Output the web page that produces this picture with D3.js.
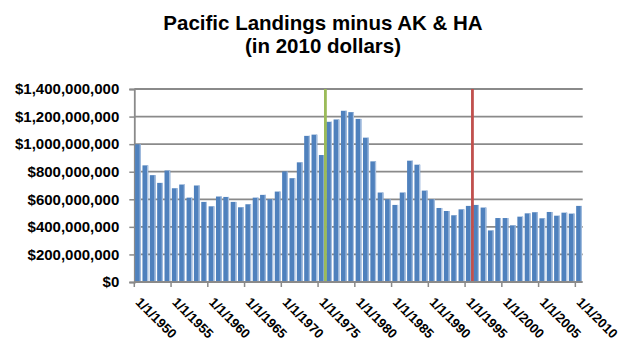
<!DOCTYPE html>
<html>
<head>
<meta charset="utf-8">
<script src="https://cdn.jsdelivr.net/npm/d3@7"></script>
<style>
  html, body { margin: 0; padding: 0; background: #fff; }
  svg { display: block; font-family: "Liberation Sans", Arial, sans-serif; }
</style>
</head>
<body>
<svg id="chart" width="624" height="345"></svg>
<script>
// Annual landings value, Pacific coast excluding Alaska and Hawaii (2010 dollars)
const years = d3.range(1950, 2011);
const landings = [
  999e6, 846e6, 775e6, 719e6, 809e6, 680e6, 707e6, 612e6, 700e6, 581e6,
  549e6, 620e6, 617e6, 581e6, 542e6, 564e6, 612e6, 632e6, 600e6, 656e6,
  802e6, 753e6, 868e6, 1060e6, 1069e6, 921e6, 1162e6, 1179e6, 1242e6, 1232e6,
  1183e6, 1047e6, 875e6, 649e6, 600e6, 559e6, 649e6, 880e6, 851e6, 663e6,
  600e6, 537e6, 515e6, 484e6, 527e6, 552e6, 559e6, 540e6, 374e6, 464e6,
  464e6, 411e6, 474e6, 498e6, 506e6, 462e6, 508e6, 481e6, 503e6, 496e6,
  552e6
];
const yTicks = [0, 200e6, 400e6, 600e6, 800e6, 1000e6, 1200e6, 1400e6];
const tickYears = [1950, 1955, 1960, 1965, 1970, 1975, 1980, 1985, 1990, 1995, 2000, 2005, 2010];
const tickLabels = tickYears.map(y => "1/1/" + y);
const markerYears = [1976, 1996];
const markerColors = ["#9bbb59", "#c0504d"];
const titleLines = ["Pacific Landings minus AK & HA", "(in 2010 dollars)"];

const svg = d3.select("#chart");
const plotLeft = 134.3, plotRight = 582.7, plotTop = 89, plotBottom = 282;

const x = d3.scaleBand()
  .domain(years)
  .range([plotLeft, plotRight])
  .paddingInner(0.22)
  .paddingOuter(0.11);
const step = x.step();
const gapHalf = (step - x.bandwidth()) / 2;
// left edge of a year's category slot
const slot = yr => x(yr) - gapHalf;

const y = d3.scaleLinear().domain([0, 1400e6]).range([plotBottom, plotTop]);

// Title
svg.append("g").selectAll("text")
  .data(titleLines)
  .join("text")
  .attr("x", 323)
  .attr("y", (d, i) => 30 + i * 22.5)
  .attr("text-anchor", "middle")
  .attr("font-size", 20.5)
  .attr("font-weight", "bold")
  .attr("fill", "#000")
  .text(d => d);

// Horizontal gridlines
svg.append("g").selectAll("line")
  .data(yTicks.slice(1))
  .join("line")
  .attr("x1", plotLeft).attr("x2", plotRight)
  .attr("y1", d => y(d)).attr("y2", d => y(d))
  .attr("stroke", "#8a8a8a")
  .attr("stroke-width", 1.8);

// Y axis
const yAxis = d3.axisLeft(y)
  .tickValues(yTicks)
  .tickSize(5)
  .tickPadding(10)
  .tickFormat(d => "$" + d3.format(",")(d));
const gy = svg.append("g").attr("transform", `translate(${plotLeft},0)`).call(yAxis);
gy.select(".domain").attr("stroke", "#8a8a8a").attr("stroke-width", 1.8);
gy.selectAll(".tick line").attr("stroke", "#8a8a8a").attr("stroke-width", 1.5);
gy.selectAll(".tick text")
  .attr("font-family", "Liberation Sans, Arial, sans-serif")
  .attr("font-size", 15)
  .attr("font-weight", "bold")
  .attr("fill", "#000");

// Bars
svg.append("g").selectAll("rect")
  .data(years)
  .join("rect")
  .attr("x", d => x(d))
  .attr("width", x.bandwidth())
  .attr("y", (d, i) => y(landings[i]))
  .attr("height", (d, i) => y(0) - y(landings[i]))
  .attr("fill", "#4f81bd");

// Light right edge on each bar
svg.append("g").selectAll("line")
  .data(years)
  .join("line")
  .attr("x1", d => x(d) + x.bandwidth() - 0.6)
  .attr("x2", d => x(d) + x.bandwidth() - 0.6)
  .attr("y1", (d, i) => y(landings[i]))
  .attr("y2", y(0))
  .attr("stroke", "#a8c0e0")
  .attr("stroke-width", 1.2);

// Vertical marker lines
svg.append("g").selectAll("line")
  .data(markerYears)
  .join("line")
  .attr("x1", d => slot(d)).attr("x2", d => slot(d))
  .attr("y1", y(1400e6)).attr("y2", y(0))
  .attr("stroke", (d, i) => markerColors[i])
  .attr("stroke-width", 2.8);

// X axis baseline and ticks
const gx = svg.append("g");
gx.append("line")
  .attr("x1", plotLeft).attr("x2", plotRight)
  .attr("y1", y(0)).attr("y2", y(0))
  .attr("stroke", "#8a8a8a").attr("stroke-width", 1.8);
gx.selectAll("line.tk")
  .data(tickYears)
  .join("line")
  .attr("class", "tk")
  .attr("x1", d => slot(d)).attr("x2", d => slot(d))
  .attr("y1", y(0)).attr("y2", y(0) + 5)
  .attr("stroke", "#8a8a8a").attr("stroke-width", 1.5);
gx.selectAll("text")
  .data(tickYears)
  .join("text")
  .attr("transform", (d, i) => `translate(${slot(d) + 0.5},303) rotate(45)`)
  .attr("font-size", 13.2)
  .attr("font-weight", "bold")
  .attr("fill", "#000")
  .text((d, i) => tickLabels[i]);
</script>
</body>
</html>
